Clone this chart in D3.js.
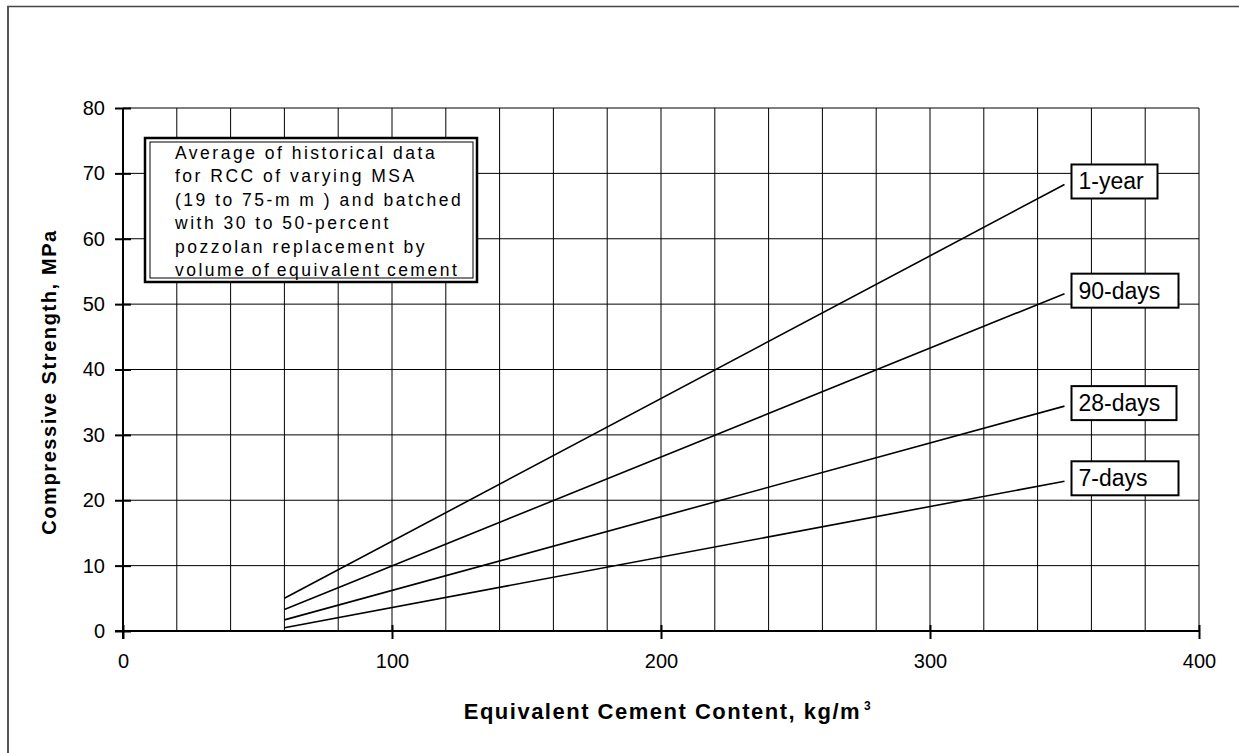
<!DOCTYPE html>
<html><head><meta charset="utf-8">
<script src="https://cdn.jsdelivr.net/npm/d3@7"></script>
<style>body{margin:0;background:#fff}svg{display:block}</style>
</head><body>
<script>
const xTicks = [0, 100, 200, 300, 400];
const yTicks = [0, 10, 20, 30, 40, 50, 60, 70, 80];
const seriesNames = ["1-year", "90-days", "28-days", "7-days"];
const xStart = [60, 60, 60, 60];
const xEnd = [350, 350, 350, 350];
const yStart = [5.0, 3.3, 1.7, 0.5];
const yEnd = [68.3, 51.6, 34.4, 22.9];
const noteLines = ["Average of historical data","for RCC of varying MSA","(19 to 75-m m ) and batched","with 30 to 50-percent","pozzolan replacement by","volume of equivalent cement"];

const W = 1239, H = 753;
const svg = d3.select("body").append("svg").attr("width", W).attr("height", H);
const font = "'Liberation Sans', Arial, sans-serif";

// outer frame
svg.append("line").attr("x1",7).attr("x2",W).attr("y1",6.5).attr("y2",6.5).attr("stroke","#444").attr("stroke-width",1.5);
svg.append("line").attr("x1",8).attr("x2",8).attr("y1",6).attr("y2",H).attr("stroke","#555").attr("stroke-width",2);

const x = d3.scaleLinear().domain([0,400]).range([123,1199]);
const y = d3.scaleLinear().domain([0,80]).range([631,108]);

// grid
const g = svg.append("g");
g.selectAll(".vg").data(d3.range(20,401,20)).join("line")
  .attr("x1",d=>x(d)).attr("x2",d=>x(d)).attr("y1",y(0)).attr("y2",y(80))
  .attr("stroke","#000").attr("stroke-width",1);
g.selectAll(".hg").data(yTicks.slice(1)).join("line")
  .attr("x1",x(0)).attr("x2",x(400)).attr("y1",d=>y(d)).attr("y2",d=>y(d))
  .attr("stroke","#000").attr("stroke-width",1);

// axes
const xAxis = d3.axisBottom(x).tickValues(xTicks).tickSize(8).tickPadding(15).tickFormat(d3.format("d"));
const xa = svg.append("g").attr("transform",`translate(0,${y(0)})`).call(xAxis);
xa.select(".domain").remove();
xa.selectAll(".tick line").attr("stroke-width",2).attr("y1",-6);
xa.selectAll("text").attr("font-family",font).attr("font-size",20).attr("fill","#000");
svg.append("line").attr("x1",x(0)-8).attr("x2",x(400)).attr("y1",y(0)).attr("y2",y(0)).attr("stroke","#000").attr("stroke-width",2);

const yAxis = d3.axisLeft(y).tickValues(yTicks).tickSize(8).tickPadding(10);
const ya = svg.append("g").attr("transform",`translate(${x(0)},0)`).call(yAxis);
ya.select(".domain").remove();
ya.selectAll(".tick line").attr("stroke-width",2).attr("x1",-8).attr("x2",8);
ya.selectAll("text").attr("font-family",font).attr("font-size",20).attr("fill","#000");
svg.append("line").attr("x1",x(0)).attr("x2",x(0)).attr("y1",y(80)).attr("y2",y(0)+8).attr("stroke","#000").attr("stroke-width",2);

// axis titles
const xt = svg.append("text").attr("x",668).attr("y",719).attr("text-anchor","middle")
  .attr("font-family",font).attr("font-size",22).attr("font-weight","bold").attr("letter-spacing","1.5px").attr("fill","#000");
xt.append("tspan").text("Equivalent Cement Content, kg/m");
xt.append("tspan").attr("font-size",12).attr("dy",-9).attr("dx",3).text("3");
svg.append("text").attr("transform",`translate(56,382) rotate(-90)`).attr("text-anchor","middle")
  .attr("font-family",font).attr("font-size",20).attr("font-weight","bold").attr("letter-spacing","1.6px").attr("fill","#000")
  .text("Compressive Strength, MPa");

// series lines
seriesNames.forEach((n,i)=>{
  svg.append("path").datum([[xStart[i],yStart[i]],[xEnd[i],yEnd[i]]])
    .attr("d", d3.line().x(d=>x(d[0])).y(d=>y(d[1])))
    .attr("stroke","#000").attr("stroke-width",1.6).attr("fill","none");
});

// series labels
const labelW = [86, 107, 105, 107];
seriesNames.forEach((n,i)=>{
  const cy = y(yEnd[i]) - 3;
  const bx = x(xEnd[i]) + 7;
  svg.append("rect").attr("x",bx).attr("y",cy-17).attr("width",labelW[i]).attr("height",34)
    .attr("fill","#fff").attr("stroke","#000").attr("stroke-width",2);
  svg.append("text").attr("x",bx+7).attr("y",cy+8).attr("font-family",font).attr("font-size",23).attr("fill","#000").text(n);
});

// note box
svg.append("rect").attr("x",145).attr("y",138).attr("width",332).attr("height",144)
  .attr("fill","#fff").attr("stroke","#000").attr("stroke-width",2.5);
svg.append("rect").attr("x",150).attr("y",142).attr("width",323).attr("height",136)
  .attr("fill","none").attr("stroke","#000").attr("stroke-width",1);
svg.selectAll(".note").data(noteLines).join("text")
  .attr("x",175).attr("y",(d,i)=>159+i*23.4)
  .attr("font-family",font).attr("font-size",17.5).attr("letter-spacing","2.5px")
  .attr("word-spacing",(d,i)=>i===noteLines.length-1?"-2px":"0px").attr("fill","#000")
  .text(d=>d);
</script>
</body></html>
